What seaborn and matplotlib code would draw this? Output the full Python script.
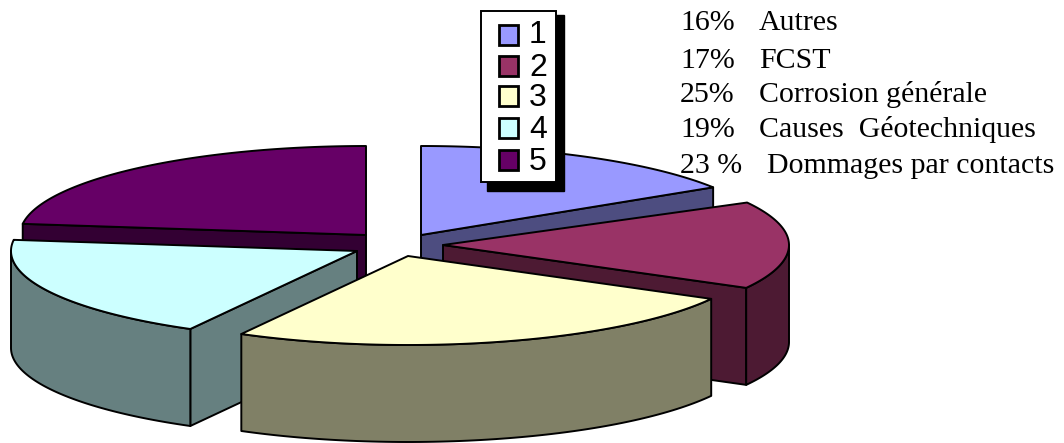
import numpy as np
import matplotlib
matplotlib.use("Agg")
import matplotlib.pyplot as plt
import seaborn as sns

sns.set_theme(style="white")

# Data
slice_ids = ["1", "2", "3", "4", "5"]
percent_values = [16, 17, 25, 19, 23]
percent_labels = ["16%", "17%", "25%", "19%", "23 %"]
cause_names = ["Autres", "FCST", "Corrosion générale", "Causes  Géotechniques", "Dommages par contacts"]

# Style / layout
top_colors = ["#9999FF", "#993366", "#FFFFCC", "#CCFFFF", "#660066"]
side_colors = ["#4D4D80", "#4D1A33", "#808066", "#668080", "#330033"]
apex_x = [421, 443, 408, 357, 366]
apex_y = [235, 245, 256, 251, 235]
start_shift = [0, 3.9, 0, 0, 0]  # the original's slice 2 rim begins slightly later
draw_order = [0, 4, 1, 3, 2]
RX, RY, DEPTH = 346, 89, 97
EDGE = 1.4

W, H = 1064, 443
fig = plt.figure(figsize=(W / 100, H / 100), dpi=100)
ax = fig.add_axes([0, 0, 1, 1])
ax.set_xlim(0, W)
ax.set_ylim(H, 0)
ax.axis("off")

cum = np.cumsum([0] + percent_values) / np.sum(percent_values) * 360.0


def rim(cx, cy, theta):
    t = np.radians(theta)
    return cx + RX * np.sin(t), cy - RY * np.cos(t)


def poly(xs, ys, color, z):
    ax.fill(xs, ys, facecolor=color, edgecolor="black", linewidth=EDGE, zorder=z, joinstyle="round")


for z, i in enumerate(draw_order):
    cx, cy = apex_x[i], apex_y[i]
    a, b = cum[i] + start_shift[i], cum[i + 1]
    base = 10 * z
    # radial cut faces turned towards the viewer
    for k, th in enumerate((a, b)):
        s = np.sin(np.radians(th))
        visible = (s < -1e-6) if k == 0 else (s > 1e-6)
        if visible:
            ex, ey = rim(cx, cy, th)
            poly([cx, ex, ex, cx], [cy, ey, ey + DEPTH, cy + DEPTH], side_colors[i], base + 1)
    # outer wall
    lo, hi = max(a, 90), min(b, 270)
    if hi > lo:
        th = np.linspace(lo, hi, 80)
        wx, wy = rim(cx, cy, th)
        poly(np.r_[wx, wx[::-1]], np.r_[wy, wy[::-1] + DEPTH], side_colors[i], base + 2)
    # top
    th = np.linspace(a, b, 120)
    tx, ty = rim(cx, cy, th)
    poly(np.r_[cx, tx], np.r_[cy, ty], top_colors[i], base + 3)

# Legend box with shadow
LZ = 100
ax.fill([487, 564, 564, 487], [15, 15, 191, 191], facecolor="black", edgecolor="black", zorder=LZ)
ax.fill([481, 556, 556, 481], [11, 11, 182, 182], facecolor="white", edgecolor="black", linewidth=1.4, zorder=LZ + 1)
rows = [35, 66, 96, 128, 160]
baselines = [43, 76, 106, 138, 170]
for name, col, y, base_y in zip(slice_ids, top_colors, rows, baselines):
    ax.fill([499, 518, 518, 499], [y - 10, y - 10, y + 10, y + 10], facecolor=col,
            edgecolor="black", linewidth=2.0, zorder=LZ + 2)
    ax.text(529, base_y, name, fontsize=23, family="Liberation Sans", va="baseline", ha="left",
            color="black", zorder=LZ + 2)

# Annotation list
text_y = [30, 68, 102, 137, 173]
text_x = [759, 759, 759, 759, 767]
FS = 21.5
for pct, name, y, x in zip(percent_labels, cause_names, text_y, text_x):
    ax.text(680, y, pct, fontsize=FS, family="Liberation Serif", va="baseline", ha="left", color="black")
    ax.text(x, y, name, fontsize=FS, family="Liberation Serif", va="baseline", ha="left", color="black")

fig.savefig("out.png", dpi=100, facecolor="white")
